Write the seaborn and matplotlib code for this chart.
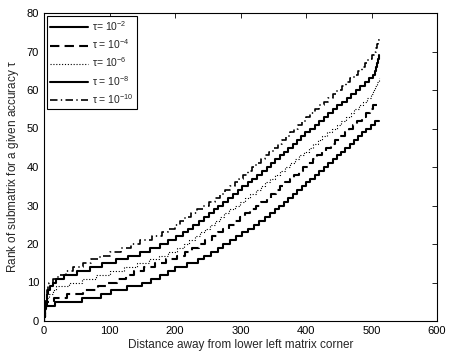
import numpy as np
import pandas as pd
import matplotlib
matplotlib.use("Agg")
import matplotlib.pyplot as plt
import seaborn as sns

# Distance (along anti-diagonal) at which the rank first reaches 1, 2, 3, ...
steps_tau2 = [0.5, 1, 1.5, 2.5, 17, 58, 87, 103, 127, 150, 164, 177, 189, 200, 219,
              235, 245, 255, 265, 274, 284, 293, 302, 311, 320, 329, 337, 345, 352,
              359, 366, 373, 380, 387, 394, 400, 406, 413, 420, 427, 434, 441, 447,
              454, 460, 467, 473, 480, 486, 492, 499, 506]
steps_tau4 = [0.5, 1, 2, 3, 5, 15, 35, 60, 82, 98, 112, 125, 138, 152, 170, 187, 203,
              215, 226, 236, 246, 256, 265, 274, 282, 291, 299, 307, 315, 324, 332,
              340, 347, 354, 361, 368, 375, 382, 389, 396, 403, 410, 417, 424, 431,
              438, 445, 452, 459, 465, 472, 478, 485, 491, 497, 503, 508]
steps_tau6 = [0.5, 1, 1.5, 2, 3, 5, 8, 13, 19, 38, 58, 80, 100, 122, 142, 160, 176,
              190, 203, 213, 222, 230, 238, 246, 254, 261, 268, 275, 283, 291, 299,
              307, 315, 323, 331, 338, 345, 353, 360, 368, 375, 383, 390, 397, 404,
              411, 418, 425, 432, 440, 447, 454, 461, 468, 474, 481, 487, 493, 499,
              503, 506, 509, 511]
steps_tau8 = [0.5, 1, 1.5, 2, 3, 4, 5, 6, 9, 13, 19, 30, 50, 70, 88, 110, 128, 147,
              162, 177, 190, 202, 212, 220, 228, 236, 244, 252, 259, 266, 274, 281,
              288, 296, 303, 311, 318, 325, 333, 340, 347, 353, 360, 366, 373, 380,
              386, 393, 399, 406, 413, 420, 427, 434, 441, 448, 455, 462, 469, 476,
              483, 490, 496, 502, 505, 507, 508.5, 510, 511]
steps_tau10 = [0.5, 1, 1.5, 2, 2.5, 3, 4, 5, 6, 8, 14, 22, 33, 45, 60, 72, 85, 100,
               117, 133, 147, 165, 180, 190, 200, 208, 216, 225, 234, 243, 252, 261,
               269, 277, 284, 291, 298, 304, 311, 318, 324, 331, 337, 344, 350, 357,
               363, 369, 376, 382, 388, 394, 400, 406, 413, 420, 427, 434, 441, 448,
               455, 461, 467, 473, 479, 485, 490, 495, 500, 504, 507, 509, 510.5, 511.5]
d_end = 512

labels = [r"$\tau$= 10$^{-2}$", r"$\tau$ = 10$^{-4}$", r"$\tau$= 10$^{-6}$",
          r"$\tau$ = 10$^{-8}$", r"$\tau$ = 10$^{-10}$"]
series = [steps_tau2, steps_tau4, steps_tau6, steps_tau8, steps_tau10]

styles = [
    dict(linestyle="-", linewidth=1.5),
    dict(linestyle=(0, (4.5, 2.5)), linewidth=1.5),
    dict(linestyle=(0, (1, 1.6)), linewidth=0.8),
    dict(linestyle="-", linewidth=1.5),
    dict(linestyle=(0, (4.5, 2, 0.8, 2)), linewidth=1.2),
]

sns.set_style("white")
plt.rcParams["font.family"] = ["Liberation Sans", "DejaVu Sans"]
plt.rcParams["mathtext.fontset"] = "custom"
plt.rcParams["mathtext.rm"] = "Liberation Sans"
plt.rcParams["mathtext.it"] = "Liberation Sans"

fig = plt.figure(figsize=(4.49, 3.56), dpi=100)
ax = fig.add_axes([44 / 449, 1 - 321 / 356, (437 - 44) / 449, (321 - 13) / 356])

for steps, lab, st in zip(series, labels, styles):
    d = np.array([0.0] + list(steps) + [d_end])
    r = np.arange(0, len(steps) + 1).tolist()
    r = np.array(r + [r[-1]], dtype=float)
    df = pd.DataFrame({"distance": d, "rank": r})
    sns.lineplot(data=df, x="distance", y="rank", ax=ax, color="black",
                 estimator=None, sort=False, drawstyle="steps-post",
                 label=lab, **st)

ax.set_xlim(0, 600)
ax.set_ylim(0, 80)
ax.set_xticks(np.arange(0, 601, 100))
ax.set_yticks(np.arange(0, 81, 10))
ax.tick_params(direction="in", length=3.5, width=0.6, top=True, right=True,
               labelsize=8, colors="black", pad=3.5)
for s in ax.spines.values():
    s.set_visible(True)
    s.set_color("black")
    s.set_linewidth(0.8)

ax.set_xlabel("Distance away from lower left matrix corner", fontsize=8.5, labelpad=2)
ax.set_ylabel(r"Rank of submatrix for a given accuracy $\tau$", fontsize=8.5, labelpad=4)

leg = ax.legend(loc="upper left", fontsize=7.5, frameon=True, fancybox=False,
                edgecolor="black", framealpha=1, borderpad=0.35, handlelength=3.6,
                labelspacing=0.42, handletextpad=0.4, borderaxespad=0.25)
leg.get_frame().set_linewidth(0.8)

fig.savefig("out.png", dpi=100)
